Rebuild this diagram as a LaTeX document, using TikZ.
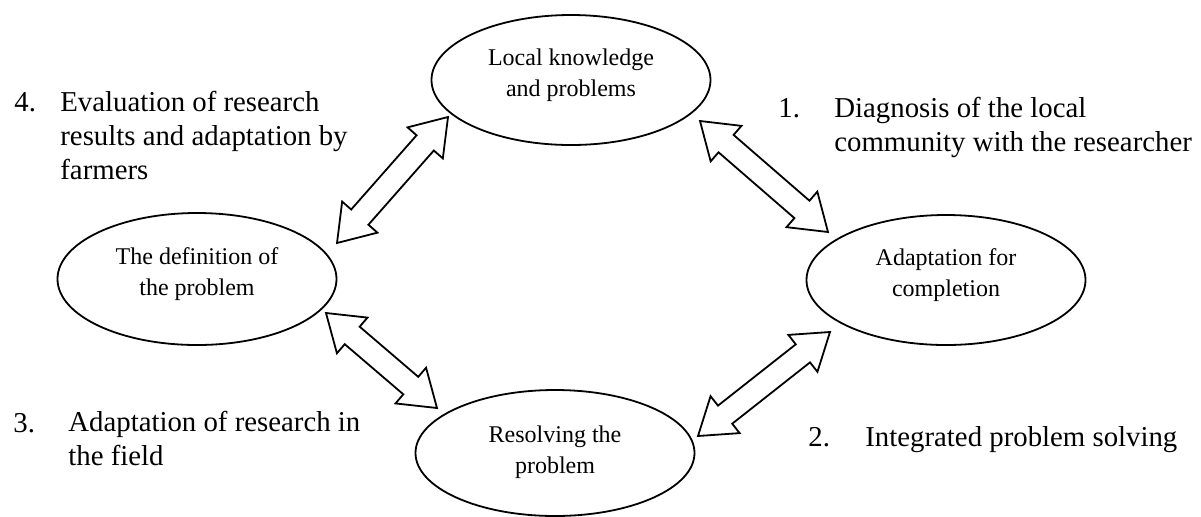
\documentclass[tikz,border=0pt]{standalone}
\usepackage{fontspec}
\setmainfont{Liberation Serif}
\usetikzlibrary{positioning}
\usetikzlibrary{shapes.geometric}
\usetikzlibrary{calc}

\begin{document}
\begin{tikzpicture}[x=0.5pt,y=-0.5pt]

          \tikzstyle{stageNode} = [ellipse, draw, line width=0.9pt, inner sep=0pt, align=center, minimum width=139.5pt, minimum height=65pt, text depth=7.5pt, font=\fontsize{12}{15.5}\selectfont];
          \tikzstyle{numNode} = [anchor=base west, inner sep=0pt, font=\fontsize{14.4}{17}\selectfont];
          \tikzstyle{stepText} = [anchor=base west, inner sep=0pt, align=left, font=\fontsize{14.4}{17}\selectfont];
          \tikzstyle{cycleEdge} = [line width=0.9pt, fill=white, line join=miter];

          \useasboundingbox (0,0) rectangle (1201,516);

          \node[stageNode] (know) at (571,80) {Local knowledge\\and problems};
          \node[stageNode, minimum height=66pt] (defn) at (197,279) {The definition of\\the problem};
          \node[stageNode] (adapt) at (946,280) {Adaptation for\\completion};
          \node[stageNode, minimum height=63pt, text depth=3pt] (resolve) at (555,453) {Resolving the\\problem};

          \coordinate (kd1) at (448,117);
          \coordinate (kd2) at (337,243);
          \coordinate (ka1) at (700,121);
          \coordinate (ka2) at (828,232);
          \coordinate (dr1) at (326,313);
          \coordinate (dr2) at (437,408);
          \coordinate (ar1) at (830,332);
          \coordinate (ar2) at (698,436);

          \foreach \a/\b in {kd1/kd2, ka1/ka2, dr1/dr2, ar1/ar2}
            \draw[cycleEdge] (\a)
              -- ($(\a)!17.25pt!(\b)!11.75pt!90:(\b)$)
              -- ($(\a)!17.25pt!(\b)!5.75pt!90:(\b)$)
              -- ($(\b)!17.25pt!(\a)!5.75pt!-90:(\a)$)
              -- ($(\b)!17.25pt!(\a)!11.75pt!-90:(\a)$)
              -- (\b)
              -- ($(\b)!17.25pt!(\a)!11.75pt!90:(\a)$)
              -- ($(\b)!17.25pt!(\a)!5.75pt!90:(\a)$)
              -- ($(\a)!17.25pt!(\b)!5.75pt!-90:(\b)$)
              -- ($(\a)!17.25pt!(\b)!11.75pt!-90:(\b)$)
              -- cycle;

          \node[numNode] (n4) at (14,111) {4.};
          \node[stepText] (t4) at (60,179) {Evaluation of research\\results and adaptation by\\farmers};
          \node[numNode] (n1) at (778,117) {1.};
          \node[stepText] (t1) at (834,151) {Diagnosis of the local\\community with the researcher};
          \node[numNode] (n3) at (13,432) {3.};
          \node[stepText] (t3) at (68,465) {Adaptation of research in\\the field};
          \node[numNode] (n2) at (808,446) {2.};
          \node[stepText] (t2) at (865,446) {Integrated problem solving};
        \end{tikzpicture}
\end{document}
